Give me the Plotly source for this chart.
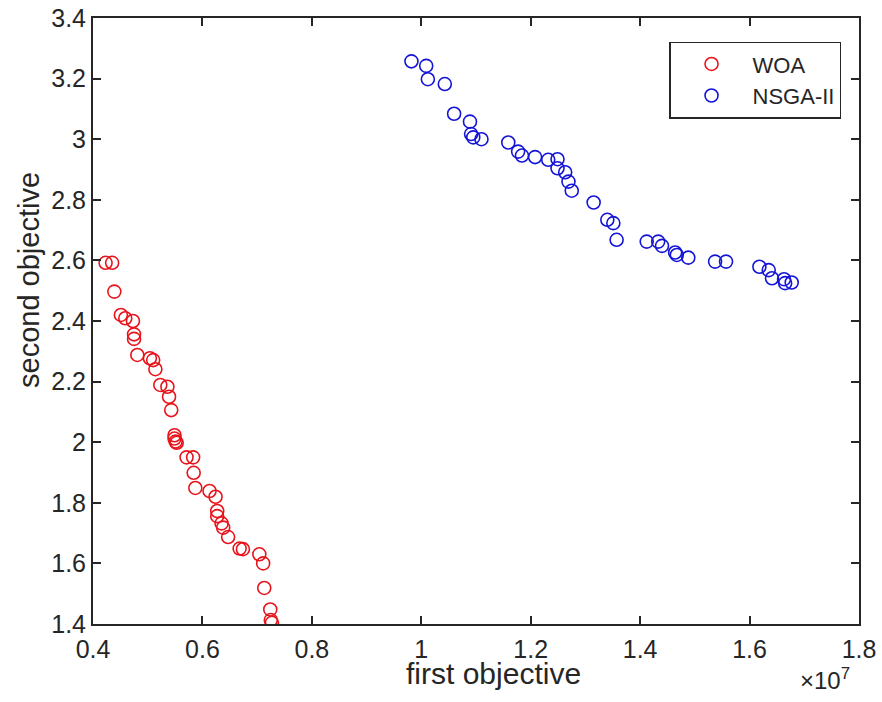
import plotly.graph_objects as go

# first objective values are in units of 1e7 (axis shows x10^7)
woa_x = [0.423, 0.435, 0.439, 0.451, 0.459, 0.473, 0.475, 0.475, 0.481, 0.504,
         0.510, 0.514, 0.523, 0.536, 0.539, 0.543, 0.549, 0.549, 0.551, 0.553,
         0.571, 0.583, 0.584, 0.587, 0.613, 0.624, 0.627, 0.627, 0.635, 0.638,
         0.647, 0.668, 0.674, 0.704, 0.711, 0.713, 0.724, 0.725, 0.727]
woa_y = [2.592, 2.592, 2.497, 2.420, 2.409, 2.400, 2.356, 2.341, 2.288, 2.277,
         2.271, 2.241, 2.189, 2.183, 2.150, 2.106, 2.023, 2.012, 2.002, 1.998,
         1.950, 1.950, 1.899, 1.849, 1.839, 1.820, 1.773, 1.756, 1.732, 1.718,
         1.687, 1.649, 1.647, 1.630, 1.600, 1.519, 1.448, 1.413, 1.404]

nsga_x = [0.982, 1.009, 1.012, 1.043, 1.060, 1.089, 1.091, 1.095, 1.110, 1.159,
          1.177, 1.184, 1.208, 1.232, 1.249, 1.249, 1.263, 1.269, 1.275, 1.315,
          1.340, 1.351, 1.357, 1.412, 1.433, 1.440, 1.464, 1.467, 1.488, 1.537,
          1.557, 1.618, 1.635, 1.641, 1.663, 1.665, 1.677]
nsga_y = [3.257, 3.242, 3.198, 3.182, 3.084, 3.058, 3.017, 3.006, 3.000, 2.989,
          2.959, 2.946, 2.941, 2.932, 2.934, 2.904, 2.891, 2.860, 2.830, 2.791,
          2.734, 2.723, 2.668, 2.662, 2.662, 2.648, 2.626, 2.618, 2.609, 2.596,
          2.596, 2.579, 2.568, 2.541, 2.538, 2.525, 2.527]

x_ticks = [0.4, 0.6, 0.8, 1.0, 1.2, 1.4, 1.6, 1.8]
x_ticklabels = ["0.4", "0.6", "0.8", "1", "1.2", "1.4", "1.6", "1.8"]
y_ticks = [1.4, 1.6, 1.8, 2.0, 2.2, 2.4, 2.6, 2.8, 3.0, 3.2, 3.4]
y_ticklabels = ["1.4", "1.6", "1.8", "2", "2.2", "2.4", "2.6", "2.8", "3", "3.2", "3.4"]

FONT = "Liberation Sans, Arial, sans-serif"
TXT = "#262626"
AX = "#262626"

fig = go.Figure()
fig.add_trace(go.Scatter(
    x=woa_x, y=woa_y, mode="markers", name="WOA",
    marker=dict(symbol="circle-open", size=13, color="#e8141b", line=dict(width=1.6)),
))
fig.add_trace(go.Scatter(
    x=nsga_x, y=nsga_y, mode="markers", name="NSGA-II",
    marker=dict(symbol="circle-open", size=13, color="#1414d8", line=dict(width=1.6)),
))

axis_common = dict(
    showgrid=False, zeroline=False, showline=True, linecolor=AX, linewidth=2,
    mirror="ticks", ticks="inside", ticklen=8, tickwidth=1.5, tickcolor=AX,
    tickfont=dict(family=FONT, size=25, color=TXT),
)

fig.update_layout(
    width=882, height=702,
    margin=dict(l=93, r=23, t=18, b=78, autoexpand=False),
    paper_bgcolor="white", plot_bgcolor="white",
    font=dict(family=FONT, color=TXT),
    xaxis=dict(range=[0.4, 1.8], tickvals=x_ticks, ticktext=x_ticklabels,
               ticklabelstandoff=2, **axis_common),
    yaxis=dict(range=[1.4, 3.4], tickvals=y_ticks, ticktext=y_ticklabels,
               **axis_common),
    showlegend=True,
    legend=dict(
        x=0.752, y=0.961, xanchor="left", yanchor="top",
        bgcolor="white", bordercolor="#262626", borderwidth=1.5,
        font=dict(family=FONT, size=22, color=TXT),
        itemwidth=72, tracegroupgap=0,
    ),
    annotations=[
        dict(text="first objective", xref="paper", yref="paper",
             x=0.5, y=0, xanchor="center", yanchor="top", yshift=-31, xshift=17,
             showarrow=False, font=dict(family=FONT, size=30, color=TXT)),
        dict(text="second objective", xref="paper", yref="paper",
             x=0, y=0.5, xanchor="center", yanchor="middle", xshift=-64, yshift=41,
             textangle=-90, showarrow=False,
             font=dict(family=FONT, size=29, color=TXT)),
        dict(text="×10<sup>7</sup>", xref="paper", yref="paper",
             x=1, y=0, xanchor="right", yanchor="top", yshift=-38, xshift=-7,
             showarrow=False, font=dict(family=FONT, size=24, color=TXT)),
    ],
)

fig.write_html("out.html", config={"displayModeBar": False},
               post_script="document.body.style.margin='0';")
